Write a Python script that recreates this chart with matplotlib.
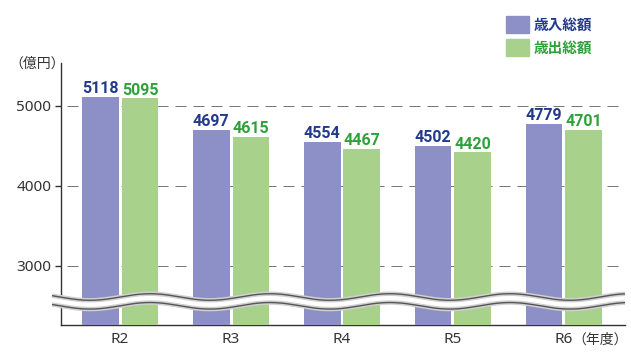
import numpy as np
import matplotlib
matplotlib.use("Agg")
import matplotlib.pyplot as plt

plt.rcParams['font.family'] = ['Noto Sans CJK JP', 'DejaVu Sans']
NUM = ['Noto Sans', 'Noto Sans CJK JP']
NUMB = ['Roboto', 'Noto Sans CJK JP']

# data
years = ['R2', 'R3', 'R4', 'R5', 'R6']
income = [5118, 4697, 4554, 4502, 4779]
expend = [5095, 4615, 4467, 4420, 4701]
yticks = [3000, 4000, 5000]

c_in = '#8c90c6'
c_out = '#a8d18c'
t_in = '#233a8c'
t_out = '#2ea23a'
txt = '#333333'

W, H = 631, 355
fig = plt.figure(figsize=(W / 100, H / 100), dpi=100)
ax = fig.add_axes([61 / W, 30 / H, (625 - 61) / W, (325 - 63) / H])

y0, y1 = 2262, 5537
ax.set_ylim(y0, y1)
ax.set_xlim(-0.532, 4.55)

x = np.arange(len(years))
bw = 0.333
off = 0.18
ax.bar(x - off, np.array(income) - y0, bw, bottom=y0, color=c_in, zorder=3)
ax.bar(x + off, np.array(expend) - y0, bw, bottom=y0, color=c_out, zorder=3)

for xi, v in zip(x, income):
    ax.text(xi - off, v + 10, str(v), ha='center', va='bottom', fontsize=11.5,
            fontweight='bold', family=NUMB, color=t_in, zorder=4)
for xi, v in zip(x, expend):
    ax.text(xi + off, v + 10, str(v), ha='center', va='bottom', fontsize=11.5,
            fontweight='bold', family=NUMB, color=t_out, zorder=4)

# dashed grid
for v in yticks:
    ax.axhline(v, color='#777777', lw=0.72, linestyle=(12, (11, 7)), zorder=1)

# axes styling
for s in ['top', 'right']:
    ax.spines[s].set_visible(False)
for s in ['left', 'bottom']:
    ax.spines[s].set_color('#333333')
    ax.spines[s].set_linewidth(1.0)
ax.set_yticks(yticks)
ax.set_yticklabels([str(v) for v in yticks], fontsize=11, family=NUM, color=txt)
ax.tick_params(axis='y', length=4, width=1, color='#333333', pad=3)
ax.set_xticks(x)
ax.set_xticklabels(years, fontsize=11, family=NUM, color=txt)
ax.tick_params(axis='x', length=0, pad=5)

# axis break (wavy band)
px = 111.0  # pixels per x unit
xs = np.linspace(-0.613, 4.55, 400)
xpix = 120 + xs * px
upper = 2612 + 41 * np.cos(2 * np.pi * (xpix - 150) / 120)
lower = upper - 110
ax.fill_between(xs, lower, upper, color='white', zorder=6, clip_on=False, lw=0)
for yy in (upper, lower):
    ax.plot(xs, yy, color='#d0d0d0', lw=3.2, zorder=7, clip_on=False,
            solid_capstyle='butt')
    ax.plot(xs, yy, color='#555555', lw=1.0, zorder=8, clip_on=False,
            solid_capstyle='butt')

# unit labels
fig.text(37 / W, 1 - 64 / H, '（億円）', ha='center', va='center',
         fontsize=10, color=txt)
fig.text(600 / W, 1 - 340 / H, '（年度）', ha='center', va='center',
         fontsize=10, color=txt)

# legend
fig.patches.append(plt.Rectangle((506 / W, 1 - 33 / H), 23 / W, 17 / H,
                                 transform=fig.transFigure, color=c_in))
fig.patches.append(plt.Rectangle((506 / W, 1 - 56 / H), 23 / W, 17 / H,
                                 transform=fig.transFigure, color=c_out))
fig.text(534 / W, 1 - 24.5 / H, '歳入総額', ha='left', va='center',
         fontsize=10.5, fontweight='bold', color=t_in)
fig.text(534 / W, 1 - 47.5 / H, '歳出総額', ha='left', va='center',
         fontsize=10.5, fontweight='bold', color=t_out)

fig.savefig('out.png', dpi=100)
